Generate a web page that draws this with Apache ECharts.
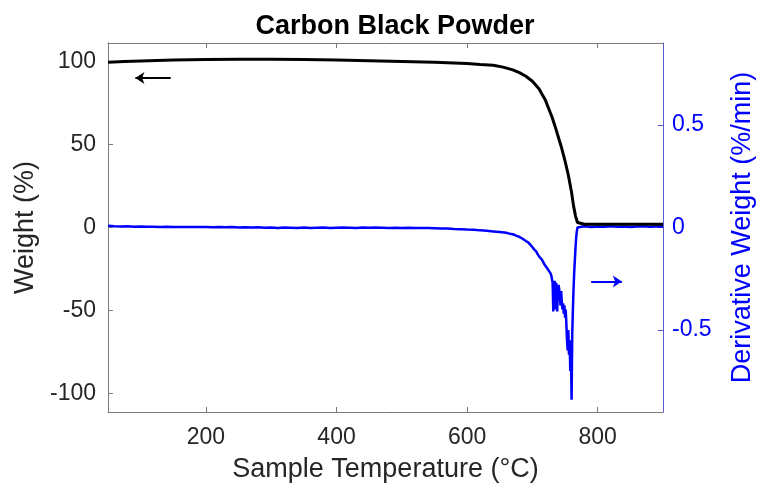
<!DOCTYPE html>
<html>
<head>
<meta charset="utf-8">
<script src="https://cdn.jsdelivr.net/npm/echarts/dist/echarts.min.js"></script>
<style>
html,body{margin:0;padding:0;background:#fff;}
#chart{width:764px;height:488px;}
</style>
</head>
<body>
<div id="chart"></div>
<script>
// Weight curve (left axis)
var weightTemp = [50, 75, 100, 150, 200, 250, 300, 350, 400, 450, 500, 550, 580, 600, 620, 640, 655, 670, 680, 690, 700, 710, 720, 730, 735, 740, 745, 750, 755, 760, 763, 766, 769, 772, 780, 800, 850, 900];
var weightVal  = [99.4, 99.8, 100.2, 100.7, 101.0, 101.2, 101.2, 101.0, 100.7, 100.3, 99.9, 99.4, 99.0, 98.6, 98.0, 97.6, 96.5, 94.8, 93.2, 91.0, 88.0, 83.5, 76.5, 66.5, 60.5, 54.0, 47.5, 40.0, 31.5, 21.0, 13.0, 7.0, 3.0, 2.1, 2.0, 1.9, 1.9, 1.9];

// Derivative weight curve (right axis)
var derivTemp = [50,60,70,80,90,100,110,120,130,140,150,160,170,180,190,200,210,220,230,240,250,260,270,280,290,300,310,320,330,340,350,360,370,380,390,400,410,420,430,440,450,460,470,480,490,500,510,520,530,540,550,560,570,580,590,600,
  610,620,630,640,650,660,665,670,675,680,685,690,694,697,700,703,706,708,710,712,714,716,718,720,722,724,725,726,728,729,730,731,732,733,734,735,736,737,738,739,740,741,742,743,744,745,746,747,748,749,750,751,752,753,754,755,756,757,758,759,760,761,762,763,764,765,766,767,768,769,770,775,780,790,800,810,820,830,840,850,860,870,880,890,900];
var derivVal = [0.008,0.006,0.005,0.006,0.004,0.005,0.004,0.004,0.003,0.004,0.003,0.002,0.003,0.002,0.003,0.002,0.001,0.002,0.001,0.002,0.0,0.001,0.0,0.001,-0.001,0.0,-0.002,0.0,-0.001,-0.003,0.0,-0.002,-0.001,0.0,-0.002,-0.001,0.0,-0.001,-0.002,0.0,-0.001,0.0,-0.001,-0.002,-0.001,-0.002,-0.001,-0.003,-0.002,-0.003,-0.004,-0.005,-0.005,-0.007,-0.008,-0.010,
  -0.011,-0.014,-0.016,-0.019,-0.022,-0.026,-0.030,-0.033,-0.040,-0.046,-0.055,-0.066,-0.074,-0.085,-0.096,-0.108,-0.118,-0.13,-0.14,-0.142,-0.155,-0.165,-0.178,-0.185,-0.196,-0.205,-0.19,-0.215,-0.225,-0.235,-0.24,-0.27,-0.41,-0.30,-0.26,-0.40,-0.27,-0.28,-0.41,-0.30,-0.28,-0.30,-0.33,-0.38,-0.31,-0.36,-0.40,-0.37,-0.42,-0.38,-0.44,-0.40,-0.47,-0.55,-0.60,-0.50,-0.62,-0.55,-0.70,-0.60,-0.84,-0.52,-0.40,-0.30,-0.22,-0.16,-0.10,-0.05,-0.02,0.0,0.005,0.004,0.006,0.003,0.005,0.004,0.006,0.004,0.005,0.003,0.005,0.006,0.004,0.005,0.005];

// Tick labels
var xTicks = [200, 400, 600, 800];
var yLeftTicks = [-100, -50, 0, 50, 100];
var yRightTicks = [-0.5, 0, 0.5];

// Annotation arrows (data coordinates)
var weightArrow = {from: [146, 90], to: [92, 90]};
var derivArrow = {from: [790, -0.263], to: [837, -0.263]};

function pairs(xs, ys) { return xs.map(function (x, i) { return [x, ys[i]]; }); }

var FONT = "'Liberation Sans', Arial, Helvetica, sans-serif";
var GRAY = '#7a7a7a';
var BLUE = '#0000ff';
var RBLUE = '#5b5bd0';

var chart = echarts.init(document.getElementById('chart'), null, {renderer: 'canvas'});
chart.setOption({
  animation: false,
  backgroundColor: '#ffffff',
  title: {
    text: 'Carbon Black Powder',
    left: 390, textAlign: 'center', top: 8,
    textStyle: {fontFamily: FONT, fontSize: 27, fontWeight: 'bold', color: '#000'}
  },
  grid: {left: 108, right: 91, top: 43, bottom: 76, containLabel: false},
  xAxis: [{
    type: 'value', min: 50, max: 900, position: 'bottom',
    name: 'Sample Temperature (°C)', nameLocation: 'middle', nameGap: 44,
    nameTextStyle: {fontFamily: FONT, fontSize: 27, color: '#262626'},
    axisLine: {show: true, onZero: false, lineStyle: {color: GRAY, width: 1}},
    axisTick: {show: true, inside: true, length: 5, customValues: xTicks, lineStyle: {color: GRAY}},
    axisLabel: {show: true, customValues: xTicks, margin: 14, fontFamily: FONT, fontSize: 23, color: '#262626'},
    splitLine: {show: false}
  }, {
    type: 'value', min: 50, max: 900, position: 'top',
    axisLine: {show: true, onZero: false, lineStyle: {color: GRAY, width: 1}},
    axisTick: {show: true, inside: true, length: 5, customValues: xTicks, lineStyle: {color: GRAY}},
    axisLabel: {show: false},
    splitLine: {show: false}
  }],
  yAxis: [{
    type: 'value', min: -111, max: 111, position: 'left',
    name: 'Weight (%)', nameLocation: 'middle', nameRotate: 90, nameGap: 62,
    nameTextStyle: {fontFamily: FONT, fontSize: 27, color: '#262626'},
    axisLine: {show: true, onZero: false, lineStyle: {color: GRAY, width: 1}},
    axisTick: {show: true, inside: true, length: 5, customValues: yLeftTicks, lineStyle: {color: GRAY}},
    axisLabel: {show: true, customValues: yLeftTicks, margin: 12, fontFamily: FONT, fontSize: 23, color: '#262626'},
    splitLine: {show: false}
  }, {
    type: 'value', min: -0.9, max: 0.9, position: 'right',
    name: 'Derivative Weight (%/min)', nameLocation: 'middle', nameRotate: 90, nameGap: 66,
    nameTextStyle: {fontFamily: FONT, fontSize: 27, color: BLUE},
    axisLine: {show: true, onZero: false, lineStyle: {color: RBLUE, width: 1}},
    axisTick: {show: true, inside: true, length: 5, customValues: yRightTicks, lineStyle: {color: RBLUE}},
    axisLabel: {show: true, customValues: yRightTicks, margin: 9, fontFamily: FONT, fontSize: 23, color: BLUE},
    splitLine: {show: false}
  }],
  series: [{
    name: 'Derivative Weight', type: 'line', xAxisIndex: 0, yAxisIndex: 1,
    data: pairs(derivTemp, derivVal), showSymbol: false, symbol: 'none', z: 2,
    lineStyle: {color: BLUE, width: 2.5},
    markLine: {
      silent: true, symbol: ['none', 'arrow'], symbolSize: [9, 9],
      label: {show: false},
      lineStyle: {color: BLUE, width: 2, type: 'solid'},
      data: [[{coord: derivArrow.from}, {coord: derivArrow.to}]]
    }
  }, {
    name: 'Weight', type: 'line', xAxisIndex: 0, yAxisIndex: 0,
    data: pairs(weightTemp, weightVal), showSymbol: false, symbol: 'none', z: 3,
    lineStyle: {color: '#000000', width: 3},
    markLine: {
      silent: true, symbol: ['none', 'arrow'], symbolSize: [9, 9],
      label: {show: false},
      lineStyle: {color: '#000000', width: 2, type: 'solid'},
      data: [[{coord: weightArrow.from}, {coord: weightArrow.to}]]
    }
  }]
});
</script>
</body>
</html>
